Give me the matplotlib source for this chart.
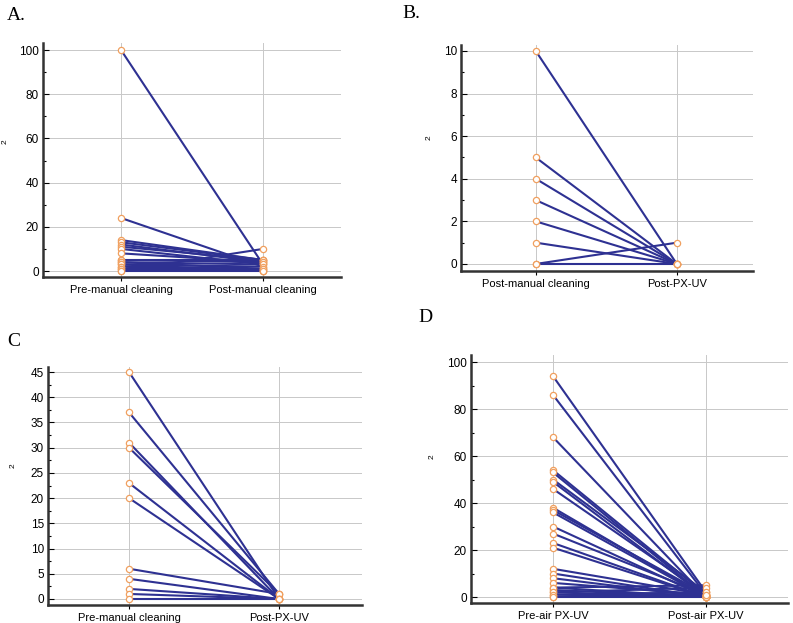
import matplotlib
matplotlib.use("Agg")
import matplotlib.pyplot as plt
from matplotlib.ticker import MultipleLocator, AutoMinorLocator

# ---------------- data ----------------
# Panel A: pre-manual vs post-manual cleaning
a_categories = ["Pre-manual cleaning", "Post-manual cleaning"]
a_pre = [100, 24, 14, 13, 12, 11, 10, 8, 5, 5, 4, 4, 3, 3, 2, 2, 1, 1, 0, 0]
a_post = [3, 2, 5, 5, 4, 5, 3, 4, 5, 4, 3, 1, 2, 0, 1, 0, 0, 1, 10, 0]

# Panel B: post-manual cleaning vs post-PX-UV
b_categories = ["Post-manual cleaning", "Post-PX-UV"]
b_pre = [10, 5, 4, 3, 2, 1, 0, 0]
b_post = [0, 0, 0, 0, 0, 0, 1, 0]

# Panel C: pre-manual cleaning vs post-PX-UV
c_categories = ["Pre-manual cleaning", "Post-PX-UV"]
c_pre = [45, 37, 31, 30, 23, 20, 6, 4, 2, 1, 0]
c_post = [0, 1, 0, 1, 0, 0, 1, 0, 0, 0, 0]

# Panel D: pre-air PX-UV vs post-air PX-UV
d_categories = ["Pre-air PX-UV", "Post-air PX-UV"]
d_pre = [94, 86, 68, 54, 53, 50, 49, 46, 38, 37, 36, 30, 27, 23, 21,
         12, 10, 8, 6, 4, 3, 2, 1, 0, 4, 2, 1, 0]
d_post = [2, 1, 0, 1, 0, 2, 0, 1, 0, 1, 0, 0, 1, 0, 0,
          1, 0, 0, 1, 0, 0, 0, 0, 0, 5, 4, 2, 1]

# y tick settings per panel
y_major = {"A": 20, "B": 2, "C": 5, "D": 20}
ylims = {"A": (-2.7, 103.2), "B": (-0.33, 10.28), "C": (-1.19, 46.0), "D": (-2.55, 103.0)}
xlims = {"A": (-0.55, 1.55), "B": (-0.53, 1.54), "C": (-0.54, 1.553), "D": (-0.536, 1.536)}

W, H = 793, 623
fig = plt.figure(figsize=(W / 100, H / 100), dpi=100)

def box(l, r, t, b):
    return [l / W, 1 - b / H, (r - l) / W, (b - t) / H]

axes_px = {
    "A": (43, 341, 43, 277),
    "B": (461, 753, 45, 271),
    "C": (48, 362, 367, 605),
    "D": (471, 788, 355, 603),
}

panels = {
    "A": (a_categories, a_pre, a_post),
    "B": (b_categories, b_pre, b_post),
    "C": (c_categories, c_pre, c_post),
    "D": (d_categories, d_pre, d_post),
}

line_color = "#2e3192"
marker_edge = "#f0a060"
grid_color = "#c8c8c8"
tick_font = ["Liberation Sans", "DejaVu Sans"]

for key, (cats, pre, post) in panels.items():
    ax = fig.add_axes(box(*axes_px[key]))
    for p0, p1 in zip(pre, post):
        ax.plot([0, 1], [p0, p1], color=line_color, lw=1.5, zorder=3,
                solid_capstyle="round")
    ax.plot([0] * len(pre), pre, "o", ms=4.5, mfc="white", mec=marker_edge,
            mew=0.9, zorder=4, ls="none")
    ax.plot([1] * len(post), post, "o", ms=4.5, mfc="white", mec=marker_edge,
            mew=0.9, zorder=4, ls="none")
    ax.set_xlim(*xlims[key])
    ax.set_ylim(*ylims[key])
    ax.set_xticks([0, 1])
    ax.set_xticklabels(cats, fontsize=8, family=tick_font)
    ax.yaxis.set_major_locator(MultipleLocator(y_major[key]))
    ax.yaxis.set_minor_locator(AutoMinorLocator(2))
    for lab in ax.get_yticklabels():
        lab.set_fontsize(8.5)
        lab.set_family(tick_font)
    ax.grid(True, which="major", color=grid_color, lw=0.7, zorder=0)
    ax.set_axisbelow(True)
    ax.spines["top"].set_visible(False)
    ax.spines["right"].set_visible(False)
    ax.spines["left"].set_linewidth(1.8)
    ax.spines["bottom"].set_linewidth(1.8)
    ax.spines["left"].set_color("#333333")
    ax.spines["bottom"].set_color("#333333")
    ax.tick_params(axis="y", which="major", direction="in", length=4, width=0.8, pad=3)
    ax.tick_params(axis="y", which="minor", direction="in", length=2.5, width=0.8)
    ax.tick_params(axis="x", which="major", direction="out", length=3, width=0.8, pad=3)

# y-axis labels "2"
for (x, y) in [(5, 142), (429, 138), (13, 466), (432, 457)]:
    fig.text(x / W, 1 - y / H, "2", rotation=90, ha="center", va="center",
             fontsize=6, family=tick_font)

# panel letters
serif = ["Liberation Serif", "DejaVu Serif"]
for (x, y, s) in [(7, 16, "A."), (402, 13, "B."), (7, 342, "C"), (418, 318, "D")]:
    fig.text(x / W, 1 - y / H, s, ha="left", va="center", fontsize=14, family=serif)

fig.savefig("out.png", dpi=100)
